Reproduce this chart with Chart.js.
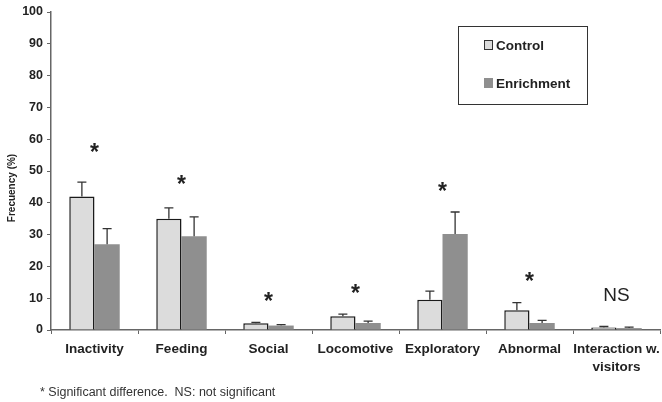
<!DOCTYPE html>
<html>
<head>
<meta charset="utf-8">
<script src="https://cdn.jsdelivr.net/npm/chart.js@4"></script>
<style>
  body { margin: 0; background: #fff; }
  #chart { display: block; }
</style>
</head>
<body>
<canvas id="chart" width="662" height="402"></canvas>
<script>
const categories = [
  "Inactivity",
  "Feeding",
  "Social",
  "Locomotive",
  "Exploratory",
  "Abnormal",
  ["Interaction w.", "visitors"],
];
const control = [42, 35, 2.1, 4.3, 9.5, 6.2, 0.8];
const controlErr = [4.5, 3.4, 0.3, 0.7, 2.7, 2.4, 0.3];
const enrichment = [27, 29.5, 1.4, 2.2, 30.2, 2.2, 0.6];
const enrichmentErr = [4.9, 6.1, 0.3, 0.6, 6.9, 0.8, 0.3];
// significance marks and the height (in %) where they sit
const sigLabels = ["*", "*", "*", "*", "*", "*", "NS"];
const sigHeights = [56.6, 46.5, 10, 12.3, 44.6, 16, 10.7];

const FONT = "'Liberation Sans', Arial, sans-serif";
Chart.defaults.font.family = FONT;

const errorBars = {
  id: "errorBars",
  afterDatasetsDraw(chart) {
    const { ctx } = chart;
    const yScale = chart.scales.y;
    const errs = [controlErr, enrichmentErr];
    ctx.save();
    ctx.strokeStyle = "#333";
    ctx.lineWidth = 1.3;
    chart.data.datasets.forEach((ds, di) => {
      chart.getDatasetMeta(di).data.forEach((bar, i) => {
        const top = yScale.getPixelForValue(ds.data[i] + errs[di][i]);
        ctx.beginPath();
        ctx.moveTo(bar.x, bar.y);
        ctx.lineTo(bar.x, top);
        ctx.moveTo(bar.x - 4.5, top);
        ctx.lineTo(bar.x + 4.5, top);
        ctx.stroke();
      });
    });
    ctx.restore();
  },
};

const annotations = {
  id: "annotations",
  afterDraw(chart) {
    const { ctx } = chart;
    const xScale = chart.scales.x;
    const yScale = chart.scales.y;
    ctx.save();
    ctx.fillStyle = "#222";
    ctx.textAlign = "center";
    ctx.textBaseline = "middle";
    sigLabels.forEach((lab, i) => {
      const x = xScale.getPixelForValue(i);
      const y = yScale.getPixelForValue(sigHeights[i]);
      ctx.font = lab === "*" ? "bold 23px " + FONT : "19px " + FONT;
      ctx.fillText(lab, x, lab === "*" ? y + 4 : y);
    });

    // y axis title, sits a bit lower than the axis centre
    ctx.save();
    ctx.translate(12, 188);
    ctx.rotate(-Math.PI / 2);
    ctx.font = "bold 10px " + FONT;
    ctx.fillText("Frecuency (%)", 0, 0);
    ctx.restore();

    // legend box
    ctx.strokeStyle = "#333";
    ctx.lineWidth = 1;
    ctx.strokeRect(458.5, 26.5, 129, 78);
    ctx.textAlign = "left";
    ctx.font = "bold 13.5px " + FONT;
    chart.data.datasets.forEach((ds, di) => {
      const y = di === 0 ? 45 : 83;
      ctx.fillStyle = ds.backgroundColor;
      ctx.fillRect(484, y - 5, 9, 10);
      if (ds.borderWidth) {
        ctx.strokeStyle = "#333";
        ctx.strokeRect(484.5, y - 4.5, 8, 9);
      }
      ctx.fillStyle = "#222";
      ctx.fillText(ds.label, 496, y + 1);
    });

    // footnote
    ctx.font = "12.5px " + FONT;
    ctx.fillStyle = "#333";
    ctx.fillText("* Significant difference.  NS: not significant", 40, 393);
    ctx.restore();
  },
};

new Chart(document.getElementById("chart"), {
  type: "bar",
  data: {
    labels: categories,
    datasets: [
      {
        label: "Control",
        data: control,
        backgroundColor: "#dcdcdc",
        borderColor: "#1a1a1a",
        borderWidth: 1.5,
        borderSkipped: "bottom",
      },
      {
        label: "Enrichment",
        data: enrichment,
        backgroundColor: "#8f8f8f",
        borderWidth: 0,
      },
    ],
  },
  options: {
    responsive: false,
    animation: false,
    layout: { padding: { top: 12, right: 2, left: 0, bottom: 0 } },
    datasets: {
      bar: { categoryPercentage: 0.58, barPercentage: 1.0 },
    },
    plugins: {
      legend: { display: false },
      tooltip: { enabled: false },
    },
    scales: {
      x: {
        grid: {
          offset: true,
          drawOnChartArea: false,
          drawTicks: true,
          tickLength: 4,
          color: "#666",
        },
        border: { color: "#666", width: 1.5 },
        ticks: {
          padding: 7,
          maxRotation: 0,
          autoSkip: false,
          color: "#222",
          font: { size: 13.5, weight: "bold", lineHeight: 1.3 },
        },
        afterFit(scale) {
          scale.height = 72;
          scale.paddingLeft = 0;
          scale.paddingRight = 0;
        },
      },
      y: {
        min: 0,
        max: 100,
        ticks: {
          stepSize: 10,
          padding: 4,
          color: "#222",
          font: { size: 12.5, weight: "bold" },
        },
        grid: {
          drawOnChartArea: false,
          drawTicks: true,
          tickLength: 4,
          color: "#666",
        },
        border: { color: "#666", width: 1.5 },
        afterFit(scale) {
          scale.width = 51;
        },
      },
    },
  },
  plugins: [errorBars, annotations],
});
</script>
</body>
</html>
